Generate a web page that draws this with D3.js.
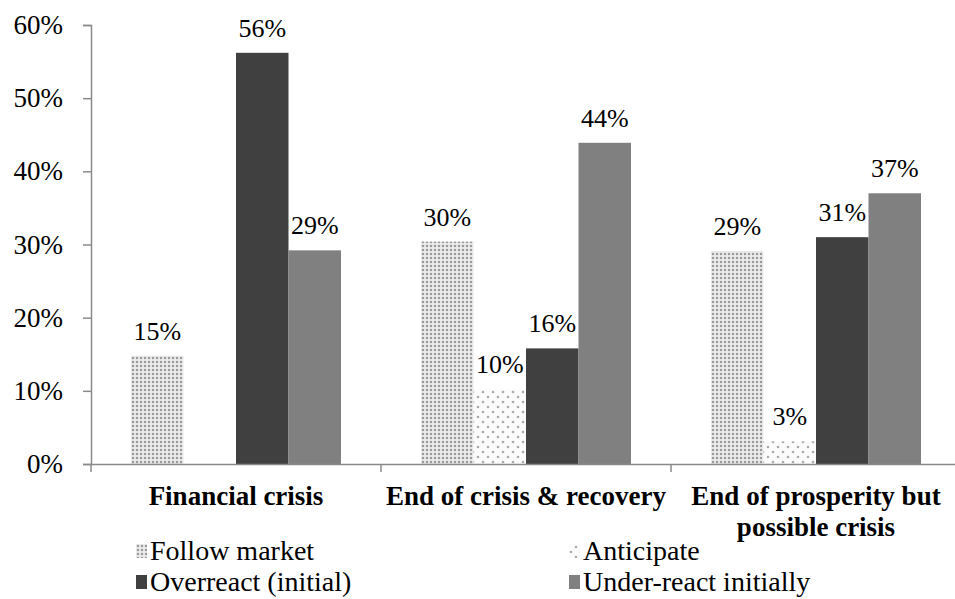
<!DOCTYPE html>
<html>
<head>
<meta charset="utf-8">
<script src="https://cdnjs.cloudflare.com/ajax/libs/d3/7.8.5/d3.min.js"></script>
<style>
  body { margin: 0; background: #fff; }
  svg text { font-family: "Liberation Serif", "Times New Roman", Tinos, serif; }
</style>
</head>
<body>
<div class="content-container"></div>
<script>
    const categories = ["Financial crisis", "End of crisis & recovery", "End of prosperity but possible crisis"];
    const seriesNames = ["Follow market", "Anticipate", "Overreact (initial)", "Under-react initially"];
    const followMarket = [14.8, 30.4, 29.1];
    const anticipate = [null, 10.2, 3.1];
    const overreact = [56.2, 15.8, 31.0];
    const underReact = [29.2, 43.9, 37.0];
    const labels = [["15%", "30%", "29%"], [null, "10%", "3%"], ["56%", "16%", "31%"], ["29%", "44%", "37%"]];
    const yTicks = [0, 10, 20, 30, 40, 50, 60];

    const series = [followMarket, anticipate, overreact, underReact];
    const fills = ["url(#dense)", "url(#sparse)", "#404040", "#808080"];

    const width = 955;
    const height = 599;
    const left = 91;
    const bandW = 290;
    const axisY = 464;

    //SCALES

    const xScale = d3.scaleBand()
                     .domain(categories)
                     .range([left, left + bandW * categories.length]);

    const xInner = d3.scaleBand()
                     .domain(d3.range(series.length))
                     .range([40, bandW - 40]);

    const yScale = d3.scaleLinear()
                     .domain([0, 60])
                     .range([axisY, 25]);

    const chart = d3.select(".content-container")
                  .append("svg")
                  .attr("width", width)
                  .attr("height", height);

    //PATTERNS

    const defs = chart.append("defs");
    const dense = defs.append("pattern")
      .attr("id", "dense")
      .attr("patternUnits", "userSpaceOnUse")
      .attr("width", 4).attr("height", 4);
    dense.append("rect").attr("width", 4).attr("height", 4).attr("fill", "#f4f4f4");
    dense.append("rect").attr("x", 0.5).attr("y", 0.5).attr("width", 3).attr("height", 3).attr("fill", "#d2d2d2");
    dense.append("rect").attr("x", 1).attr("y", 1).attr("width", 2).attr("height", 2).attr("fill", "#9a9a9a");

    const sparse = defs.append("pattern")
      .attr("id", "sparse")
      .attr("patternUnits", "userSpaceOnUse")
      .attr("width", 10).attr("height", 10);
    sparse.append("rect").attr("width", 10).attr("height", 10).attr("fill", "#fbfbfb");
    sparse.selectAll("circle")
      .data([[2, 2], [7, 7]])
      .enter()
      .append("circle")
      .attr("cx", d => d[0])
      .attr("cy", d => d[1])
      .attr("r", 1.3)
      .attr("fill", "#ababab");

    //BARS

    const groups = chart.selectAll(".group")
      .data(categories)
      .enter()
      .append("g")
      .attr("transform", d => "translate(" + xScale(d) + ",0)");

    groups.each(function(cat, ci) {
      const g = d3.select(this);
      series.forEach((s, si) => {
        const v = s[ci];
        if (v == null) return;
        g.append("rect")
          .attr("x", xInner(si))
          .attr("y", yScale(v))
          .attr("width", xInner.bandwidth())
          .attr("height", axisY - yScale(v))
          .attr("fill", fills[si]);
        g.append("text")
          .attr("x", xInner(si) + xInner.bandwidth() / 2)
          .attr("y", yScale(v) - 16)
          .attr("text-anchor", "middle")
          .attr("font-size", "26px")
          .attr("fill", "#000")
          .text(labels[si][ci]);
      });
    });

    //AXES

    const yAxis = d3.axisLeft(yScale)
      .tickValues(yTicks)
      .tickSize(8)
      .tickPadding(20)
      .tickFormat(d => d + "%");

    const gy = chart.append("g")
      .attr("transform", "translate(" + left + ",0)")
      .call(yAxis);
    gy.selectAll("text").attr("font-size", "27px").attr("fill", "#000");

    const xAxis = d3.axisBottom(xScale)
      .tickSize(0)
      .tickFormat("");

    const gx = chart.append("g")
      .attr("transform", "translate(0," + axisY + ")")
      .call(xAxis);

    gx.selectAll(".sep")
      .data(d3.range(categories.length + 1))
      .enter()
      .append("line")
      .attr("class", "sep")
      .attr("x1", i => left + i * bandW)
      .attr("x2", i => left + i * bandW)
      .attr("y1", 0)
      .attr("y2", 8);

    chart.selectAll(".domain, .tick line, .sep")
      .attr("stroke", "#8a8a8a")
      .attr("stroke-width", 1.5);

    // category labels (bold, last one wraps)
    const catLines = [["Financial crisis"], ["End of crisis & recovery"], ["End of prosperity but", "possible crisis"]];
    gx.selectAll(".cat")
      .data(categories)
      .enter()
      .append("text")
      .attr("class", "cat")
      .attr("x", d => xScale(d) + bandW / 2)
      .attr("y", 41)
      .attr("text-anchor", "middle")
      .attr("font-size", "27px")
      .attr("font-weight", "bold")
      .attr("fill", "#000")
      .each(function(d, i) {
        const t = d3.select(this);
        catLines[i].forEach((line, li) => {
          t.append("tspan")
            .attr("x", xScale(d) + bandW / 2)
            .attr("dy", li === 0 ? 0 : 31)
            .text(line);
        });
      });

    //LEGEND

    const legendPos = [[136, 560], [569, 560], [136, 591], [569, 591]];

    const legend = chart.selectAll(".legend")
      .data(seriesNames)
      .enter()
      .append("g")
      .attr("transform", (d, i) => "translate(" + legendPos[i][0] + "," + legendPos[i][1] + ")");

    legend.append("rect")
      .attr("x", 0)
      .attr("y", -16)
      .attr("width", 11)
      .attr("height", 14)
      .attr("fill", (d, i) => fills[i]);

    legend.append("text")
      .attr("x", 14)
      .attr("y", 0)
      .attr("font-size", "28px")
      .attr("fill", "#000")
      .text(d => d);
</script>
</body>
</html>
